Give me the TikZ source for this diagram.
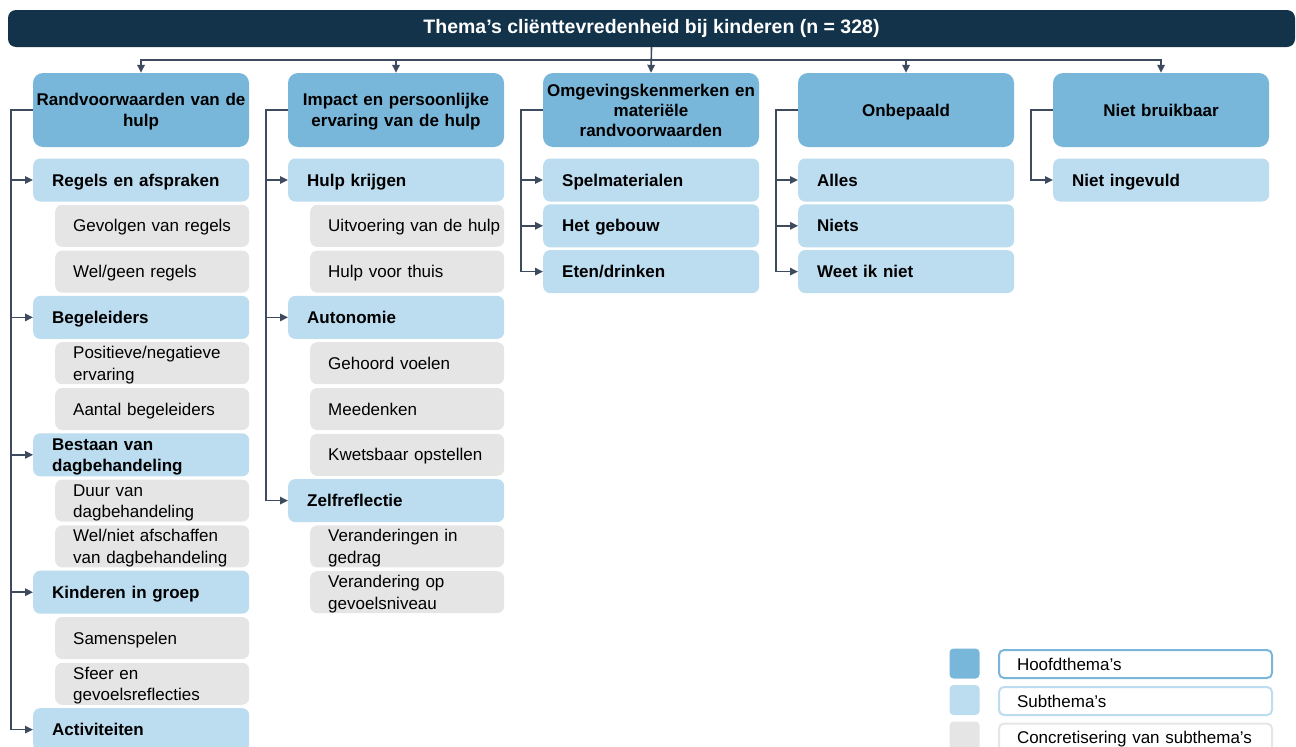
\documentclass[tikz,border=0pt]{standalone}
\usepackage{fontspec}
\setmainfont{Liberation Sans}
\usetikzlibrary{arrows.meta}
\definecolor{navy}{RGB}{18,51,74}
\definecolor{mainblue}{RGB}{121,183,218}
\definecolor{subblue}{RGB}{188,220,239}
\definecolor{concgray}{RGB}{229,229,229}
\definecolor{linec}{RGB}{62,75,94}
\newcommand{\fs}{\fontsize{17}{20}\selectfont}
\newcommand{\vstr}{\rule[-4pt]{0pt}{20.3pt}}
\begin{document}
\begin{tikzpicture}[x=1pt,y=-1pt,
  every node/.style={font=\fs},
  boxtext/.style={execute at begin node=\vstr, execute at end node=\vstr},
  titlebox/.style={fill=navy, rounded corners=8pt, minimum width=1287pt, minimum height=37pt, inner sep=0pt, text=white, font=\fontsize{19.5}{22}\selectfont\bfseries},
  mainbox/.style={boxtext, fill=mainblue, rounded corners=10pt, minimum width=216pt, minimum height=74pt, text width=212pt, inner xsep=2pt, inner ysep=0pt, align=center, font=\fs\bfseries},
  subbox/.style={boxtext, fill=subblue, rounded corners=7pt, minimum width=216pt, minimum height=43pt, text width=178pt, inner xsep=19pt, inner ysep=0pt, align=left, anchor=west, font=\fs\bfseries},
  concbox/.style={boxtext, fill=concgray, rounded corners=7pt, minimum width=194pt, minimum height=42pt, text width=158pt, inner xsep=18pt, inner ysep=0pt, align=left, anchor=west},
  legsq/.style={rounded corners=4pt, minimum size=30pt, inner sep=0pt},
  legbox/.style={boxtext, fill=white, line width=2pt, rounded corners=5pt, minimum height=28pt, text width=237pt, inner xsep=18pt, inner ysep=0pt, align=left, anchor=west},
  conn/.style={draw=linec, line width=1.6pt},
  arr/.style={conn, -{Triangle[length=8pt,width=7.5pt]}},
]
\useasboundingbox (0,0) rectangle (1296,747);
\clip (0,0) rectangle (1296,747);

% title
\node[titlebox] (title) at (651.5,28.5) {Thema’s cliënttevredenheid bij kinderen (n = 328)};

% main themes
\node[mainbox] (m1) at (141,110) {Randvoorwaarden van de\\hulp};
\node[mainbox] (m2) at (396,110) {Impact en persoonlijke\\ervaring van de hulp};
\node[mainbox] (m3) at (651,110) {Omgevingskenmerken en\\materiële\\randvoorwaarden};
\node[mainbox] (m4) at (906,110) {Onbepaald};
\node[mainbox] (m5) at (1161,110) {Niet bruikbaar};

% column 1
\node[subbox]  (a0)  at (33,180.0) {Regels en afspraken};
\node[concbox] (a1)  at (55,225.8) {Gevolgen van regels};
\node[concbox] (a2)  at (55,271.6) {Wel/geen regels};
\node[subbox]  (a3)  at (33,317.4) {Begeleiders};
\node[concbox] (a4)  at (55,363.2) {Positieve/negatieve\\ervaring};
\node[concbox] (a5)  at (55,409.0) {Aantal begeleiders};
\node[subbox]  (a6)  at (33,454.8) {Bestaan van\\dagbehandeling};
\node[concbox] (a7)  at (55,500.6) {Duur van\\dagbehandeling};
\node[concbox] (a8)  at (55,546.4) {Wel/niet afschaffen\\van dagbehandeling};
\node[subbox]  (a9)  at (33,592.2) {Kinderen in groep};
\node[concbox] (a10) at (55,638.0) {Samenspelen};
\node[concbox] (a11) at (55,683.8) {Sfeer en\\gevoelsreflecties};
\node[subbox]  (a12) at (33,729.6) {Activiteiten};

% column 2
\node[subbox]  (b0) at (288,180.0) {Hulp krijgen};
\node[concbox] (b1) at (310,225.8) {\mbox{Uitvoering van de hulp}};
\node[concbox] (b2) at (310,271.6) {Hulp voor thuis};
\node[subbox]  (b3) at (288,317.4) {Autonomie};
\node[concbox] (b4) at (310,363.2) {Gehoord voelen};
\node[concbox] (b5) at (310,409.0) {Meedenken};
\node[concbox] (b6) at (310,454.8) {Kwetsbaar opstellen};
\node[subbox]  (b7) at (288,500.6) {Zelfreflectie};
\node[concbox] (b8) at (310,546.4) {Veranderingen in\\gedrag};
\node[concbox] (b9) at (310,592.2) {Verandering op\\gevoelsniveau};

% column 3
\node[subbox] (c0) at (543,180.0) {Spelmaterialen};
\node[subbox] (c1) at (543,225.8) {Het gebouw};
\node[subbox] (c2) at (543,271.6) {Eten/drinken};

% column 4
\node[subbox] (d0) at (798,180.0) {Alles};
\node[subbox] (d1) at (798,225.8) {Niets};
\node[subbox] (d2) at (798,271.6) {Weet ik niet};

% column 5
\node[subbox] (e0) at (1053,180.0) {Niet ingevuld};

% top connectors
\draw[arr] (title.south) -- (m3.north);
\foreach \m in {m1,m2,m4,m5}
  \draw[arr] (title.south) -- ++(0,13) -| (\m.north);

% brackets
\foreach \s in {a0,a3,a6,a9,a12}
  \draw[arr] (m1.west) -- ++(-22,0) |- (\s.west);
\foreach \s in {b0,b3,b7}
  \draw[arr] (m2.west) -- ++(-22,0) |- (\s.west);
\foreach \s in {c0,c1,c2}
  \draw[arr] (m3.west) -- ++(-22,0) |- (\s.west);
\foreach \s in {d0,d1,d2}
  \draw[arr] (m4.west) -- ++(-22,0) |- (\s.west);
\foreach \s in {e0}
  \draw[arr] (m5.west) -- ++(-22,0) |- (\s.west);

% legend
\node[legsq, fill=mainblue] (q1) at (964.5,663.5) {};
\node[legsq, fill=subblue]  (q2) at (964.5,700) {};
\node[legsq, fill=concgray] (q3) at (964.5,736.5) {};
\node[legbox, draw=mainblue] (l1) at (998,664) {Hoofdthema’s};
\node[legbox, draw=subblue]  (l2) at (998,701) {Subthema’s};
\node[legbox, draw=concgray] (l3) at (998,737.5) {Concretisering van subthema’s};
\end{tikzpicture}
\end{document}
